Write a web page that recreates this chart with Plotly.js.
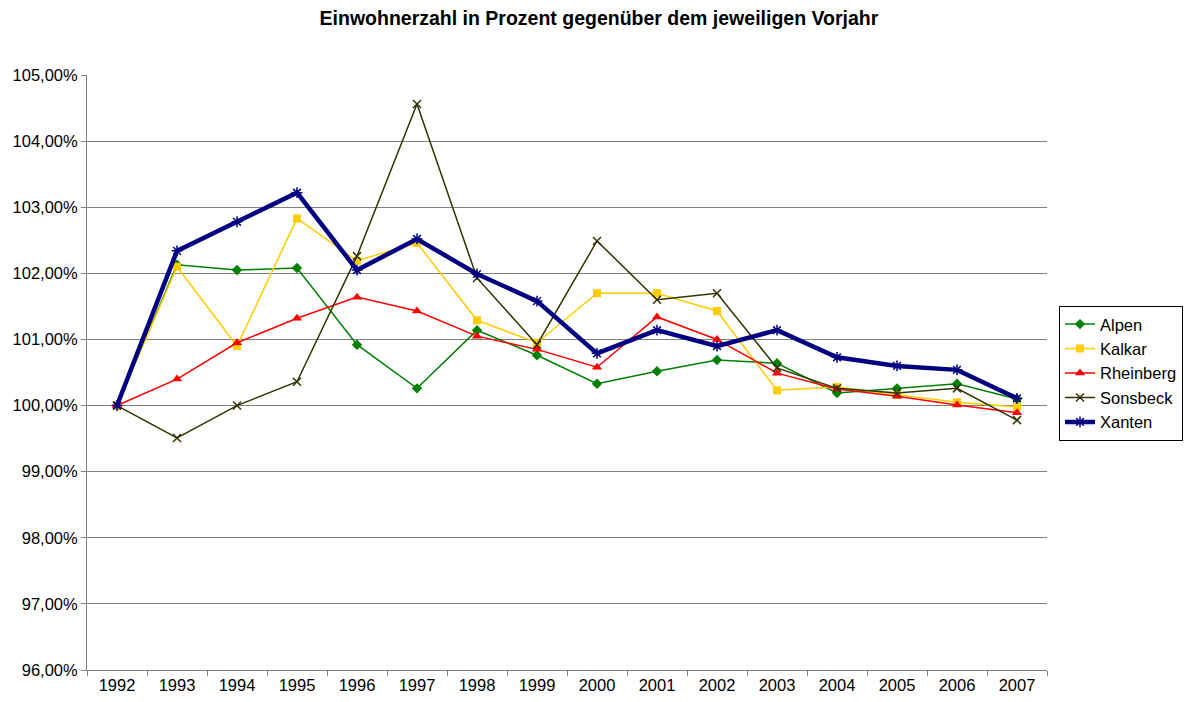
<!DOCTYPE html>
<html>
<head>
<meta charset="utf-8">
<script src="https://cdn.plot.ly/plotly-3.0.1.min.js"></script>
<style>html,body{margin:0;padding:0;background:#fff;}#chart{width:1186px;height:702px;}</style>
</head>
<body>
<div id="chart"></div>
<script>
const years = ['1992','1993','1994','1995','1996','1997','1998','1999','2000','2001','2002','2003','2004','2005','2006','2007'];
const alpen = [100, 102.13, 102.05, 102.08, 100.92, 100.26, 101.14, 100.76, 100.33, 100.52, 100.69, 100.64, 100.19, 100.26, 100.33, 100.10];
const kalkar = [100, 102.10, 100.90, 102.83, 102.19, 102.46, 101.29, 100.95, 101.70, 101.70, 101.43, 100.23, 100.28, 100.16, 100.05, 99.98];
const rheinberg = [100, 100.40, 100.95, 101.32, 101.64, 101.43, 101.05, 100.85, 100.58, 101.34, 101.00, 100.49, 100.25, 100.14, 100.01, 99.89];
const sonsbeck = [100, 99.51, 100.00, 100.36, 102.26, 104.56, 101.93, 100.92, 102.49, 101.60, 101.70, 100.57, 100.26, 100.19, 100.26, 99.78];
const xanten = [100, 102.34, 102.78, 103.22, 102.05, 102.52, 101.99, 101.58, 100.79, 101.14, 100.90, 101.14, 100.73, 100.60, 100.54, 100.11];
const yTicks = [96, 97, 98, 99, 100, 101, 102, 103, 104, 105];
const yTickText = yTicks.map(v => v.toFixed(2).replace('.', ',') + '%');

const font = '"Liberation Sans", Arial, sans-serif';
function tr(name, y, color, width, symbol, size, mline) {
  return {
    type: 'scatter', mode: 'lines+markers', name: name, x: years, y: y,
    line: {color: color, width: width},
    marker: {symbol: symbol, size: size, color: color, line: {color: color, width: mline}}
  };
}
const data = [
  tr('Alpen', alpen, '#008000', 1.5, 'diamond', 8, 0),
  tr('Kalkar', kalkar, '#FFCC00', 1.5, 'square', 8, 0),
  tr('Rheinberg', rheinberg, '#FF0000', 1.5, 'triangle-up', 9, 0),
  tr('Sonsbeck', sonsbeck, '#333300', 1.5, 'x-thin-open', 8, 1.5),
  tr('Xanten', xanten, '#000080', 4.5, 'asterisk-open', 9, 1.5)
];
const layout = {
  width: 1186, height: 702,
  paper_bgcolor: '#fff', plot_bgcolor: '#fff',
  margin: {l: 87, r: 139, t: 75, b: 32, autoexpand: false},
  title: {text: 'Einwohnerzahl in Prozent gegenüber dem jeweiligen Vorjahr', font: {family: font, size: 19.5, color: '#000', weight: 'bold'}, x: 0.505, xanchor: 'center', xref: 'container', y: 0.974, yanchor: 'middle'},
  font: {family: font, size: 16.5, color: '#000'},
  xaxis: {
    type: 'category', range: [-0.5, 15.5], showgrid: false, zeroline: false,
    showline: true, linecolor: '#808080', linewidth: 1,
    ticks: 'outside', tickson: 'boundaries', ticklen: 5, tickcolor: '#808080',
    tickfont: {family: font, size: 16.5, color: '#000'}, fixedrange: true
  },
  yaxis: {
    range: [96, 105], tickmode: 'array', tickvals: yTicks, ticktext: yTickText,
    showgrid: true, gridcolor: '#808080', gridwidth: 1, zeroline: false,
    showline: true, linecolor: '#808080', linewidth: 1,
    ticks: 'outside', ticklen: 5, tickcolor: '#808080',
    tickfont: {family: font, size: 16.5, color: '#000'}, fixedrange: true
  },
  legend: {
    x: 1.0125, xanchor: 'left', y: 0.612, yanchor: 'top',
    bordercolor: '#000', borderwidth: 1, bgcolor: '#fff',
    font: {family: font, size: 16.5, color: '#000'},
    tracegroupgap: 0, itemwidth: 30
  },
  showlegend: true
};
Plotly.newPlot('chart', data, layout, {displayModeBar: false, staticPlot: true});
</script>
</body>
</html>
